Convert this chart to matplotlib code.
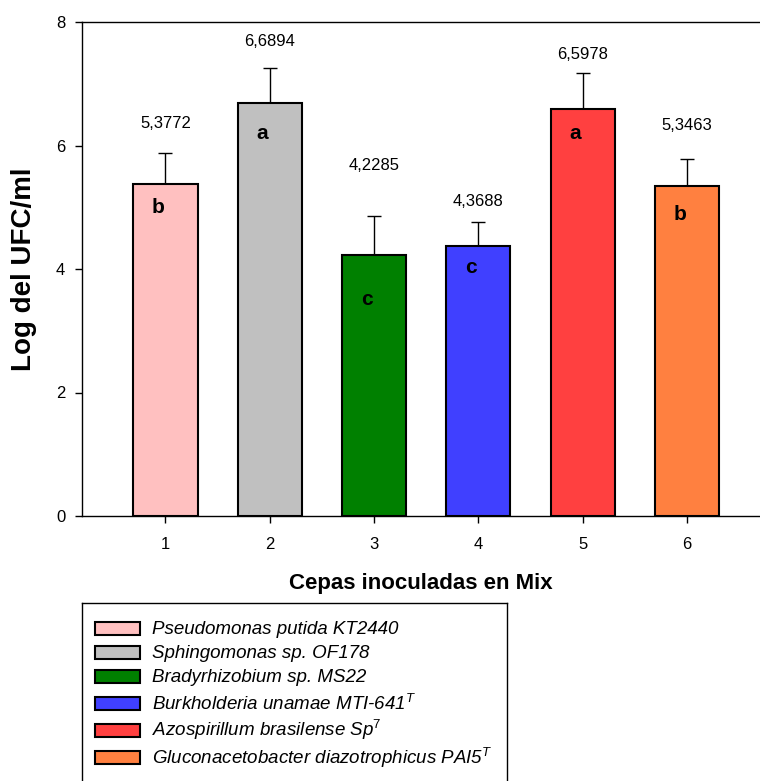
import matplotlib
matplotlib.use("Agg")
import matplotlib.pyplot as plt
from matplotlib.patches import Rectangle

plt.rcParams['font.family'] = ['Liberation Sans', 'DejaVu Sans']
plt.rcParams['mathtext.fontset'] = 'custom'
plt.rcParams['mathtext.rm'] = 'Liberation Sans'
plt.rcParams['mathtext.it'] = 'Liberation Sans:italic'

# data
strains = [1, 2, 3, 4, 5, 6]
means = [5.3772, 6.6894, 4.2285, 4.3688, 6.5978, 5.3463]
errors = [0.50, 0.56, 0.63, 0.39, 0.58, 0.43]
value_text = ["5,3772", "6,6894", "4,2285", "4,3688", "6,5978", "5,3463"]
value_y = [6.36, 7.69, 5.68, 5.10, 7.47, 6.32]
groups = ["b", "a", "c", "c", "a", "b"]
group_y = [5.0, 6.2, 3.5, 4.02, 6.2, 4.89]
colors = ["#FFC0C0", "#C0C0C0", "#008000", "#4040FF", "#FF4040", "#FF8040"]
names = [
    "Pseudomonas putida KT2440",
    "Sphingomonas sp. OF178",
    "Bradyrhizobium sp. MS22",
    r"Burkholderia unamae MTI-641$^T$",
    r"Azospirillum brasilense Sp$^7$",
    r"Gluconacetobacter diazotrophicus PAI5$^T$",
]

W, H = 760, 781
fig = plt.figure(figsize=(W / 100, H / 100), dpi=100)
ax = fig.add_axes([82 / W, 1 - 516 / H, 1 - 82 / W, (516 - 22) / H])

ax.bar(strains, means, width=0.615, color=colors, edgecolor="black", linewidth=1.5, zorder=2)
ax.errorbar(strains, means, yerr=[[0] * 6, errors], fmt="none", ecolor="black",
            elinewidth=1, capsize=5, capthick=1, zorder=1)

for x, txt, y in zip(strains, value_text, value_y):
    ax.text(x, y, txt, ha="center", va="center", fontsize=12)
for x, g, y in zip(strains, groups, group_y):
    ax.text(x - 0.07, y, g, ha="center", va="center", fontsize=15, fontweight="bold", zorder=3)

ax.set_xlim(0.2, 6.7)
ax.set_ylim(0, 8)
ax.set_xticks(strains)
ax.set_yticks([0, 2, 4, 6, 8])
ax.tick_params(direction="out", length=5, width=1, labelsize=12)
ax.tick_params(axis="y", pad=7)
ax.tick_params(axis="x", pad=10)
ax.spines["right"].set_visible(False)
for s in ["left", "bottom", "top"]:
    ax.spines[s].set_linewidth(1)

ax.set_xlabel("Cepas inoculadas en Mix", fontsize=16, fontweight="bold", labelpad=15)
ax.set_ylabel("Log del UFC/ml", fontsize=20, fontweight="bold", labelpad=14)

# legend box drawn by hand, in pixels from its top-left corner (runs off the bottom)
lax = fig.add_axes([82 / W, 1 - 800 / H, (507 - 82) / W, (800 - 603) / H])
lax.set_xlim(0, 507 - 82)
lax.set_ylim(800 - 603, 0)
lax.set_xticks([])
lax.set_yticks([])
for s in lax.spines.values():
    s.set_linewidth(1)

row = 25
for i, (c, name) in enumerate(zip(colors, names)):
    if i > 0:
        # rows with a superscript sit a little further apart
        row += 27 if "$" in name else 24
    lax.add_patch(Rectangle((13, row - 6.5), 45, 13, facecolor=c, edgecolor="black", linewidth=1.5))
    lax.text(70, row + 6.5, name, ha="left", va="baseline", fontsize=13.5, style="italic")

fig.savefig("out.png", dpi=100)
